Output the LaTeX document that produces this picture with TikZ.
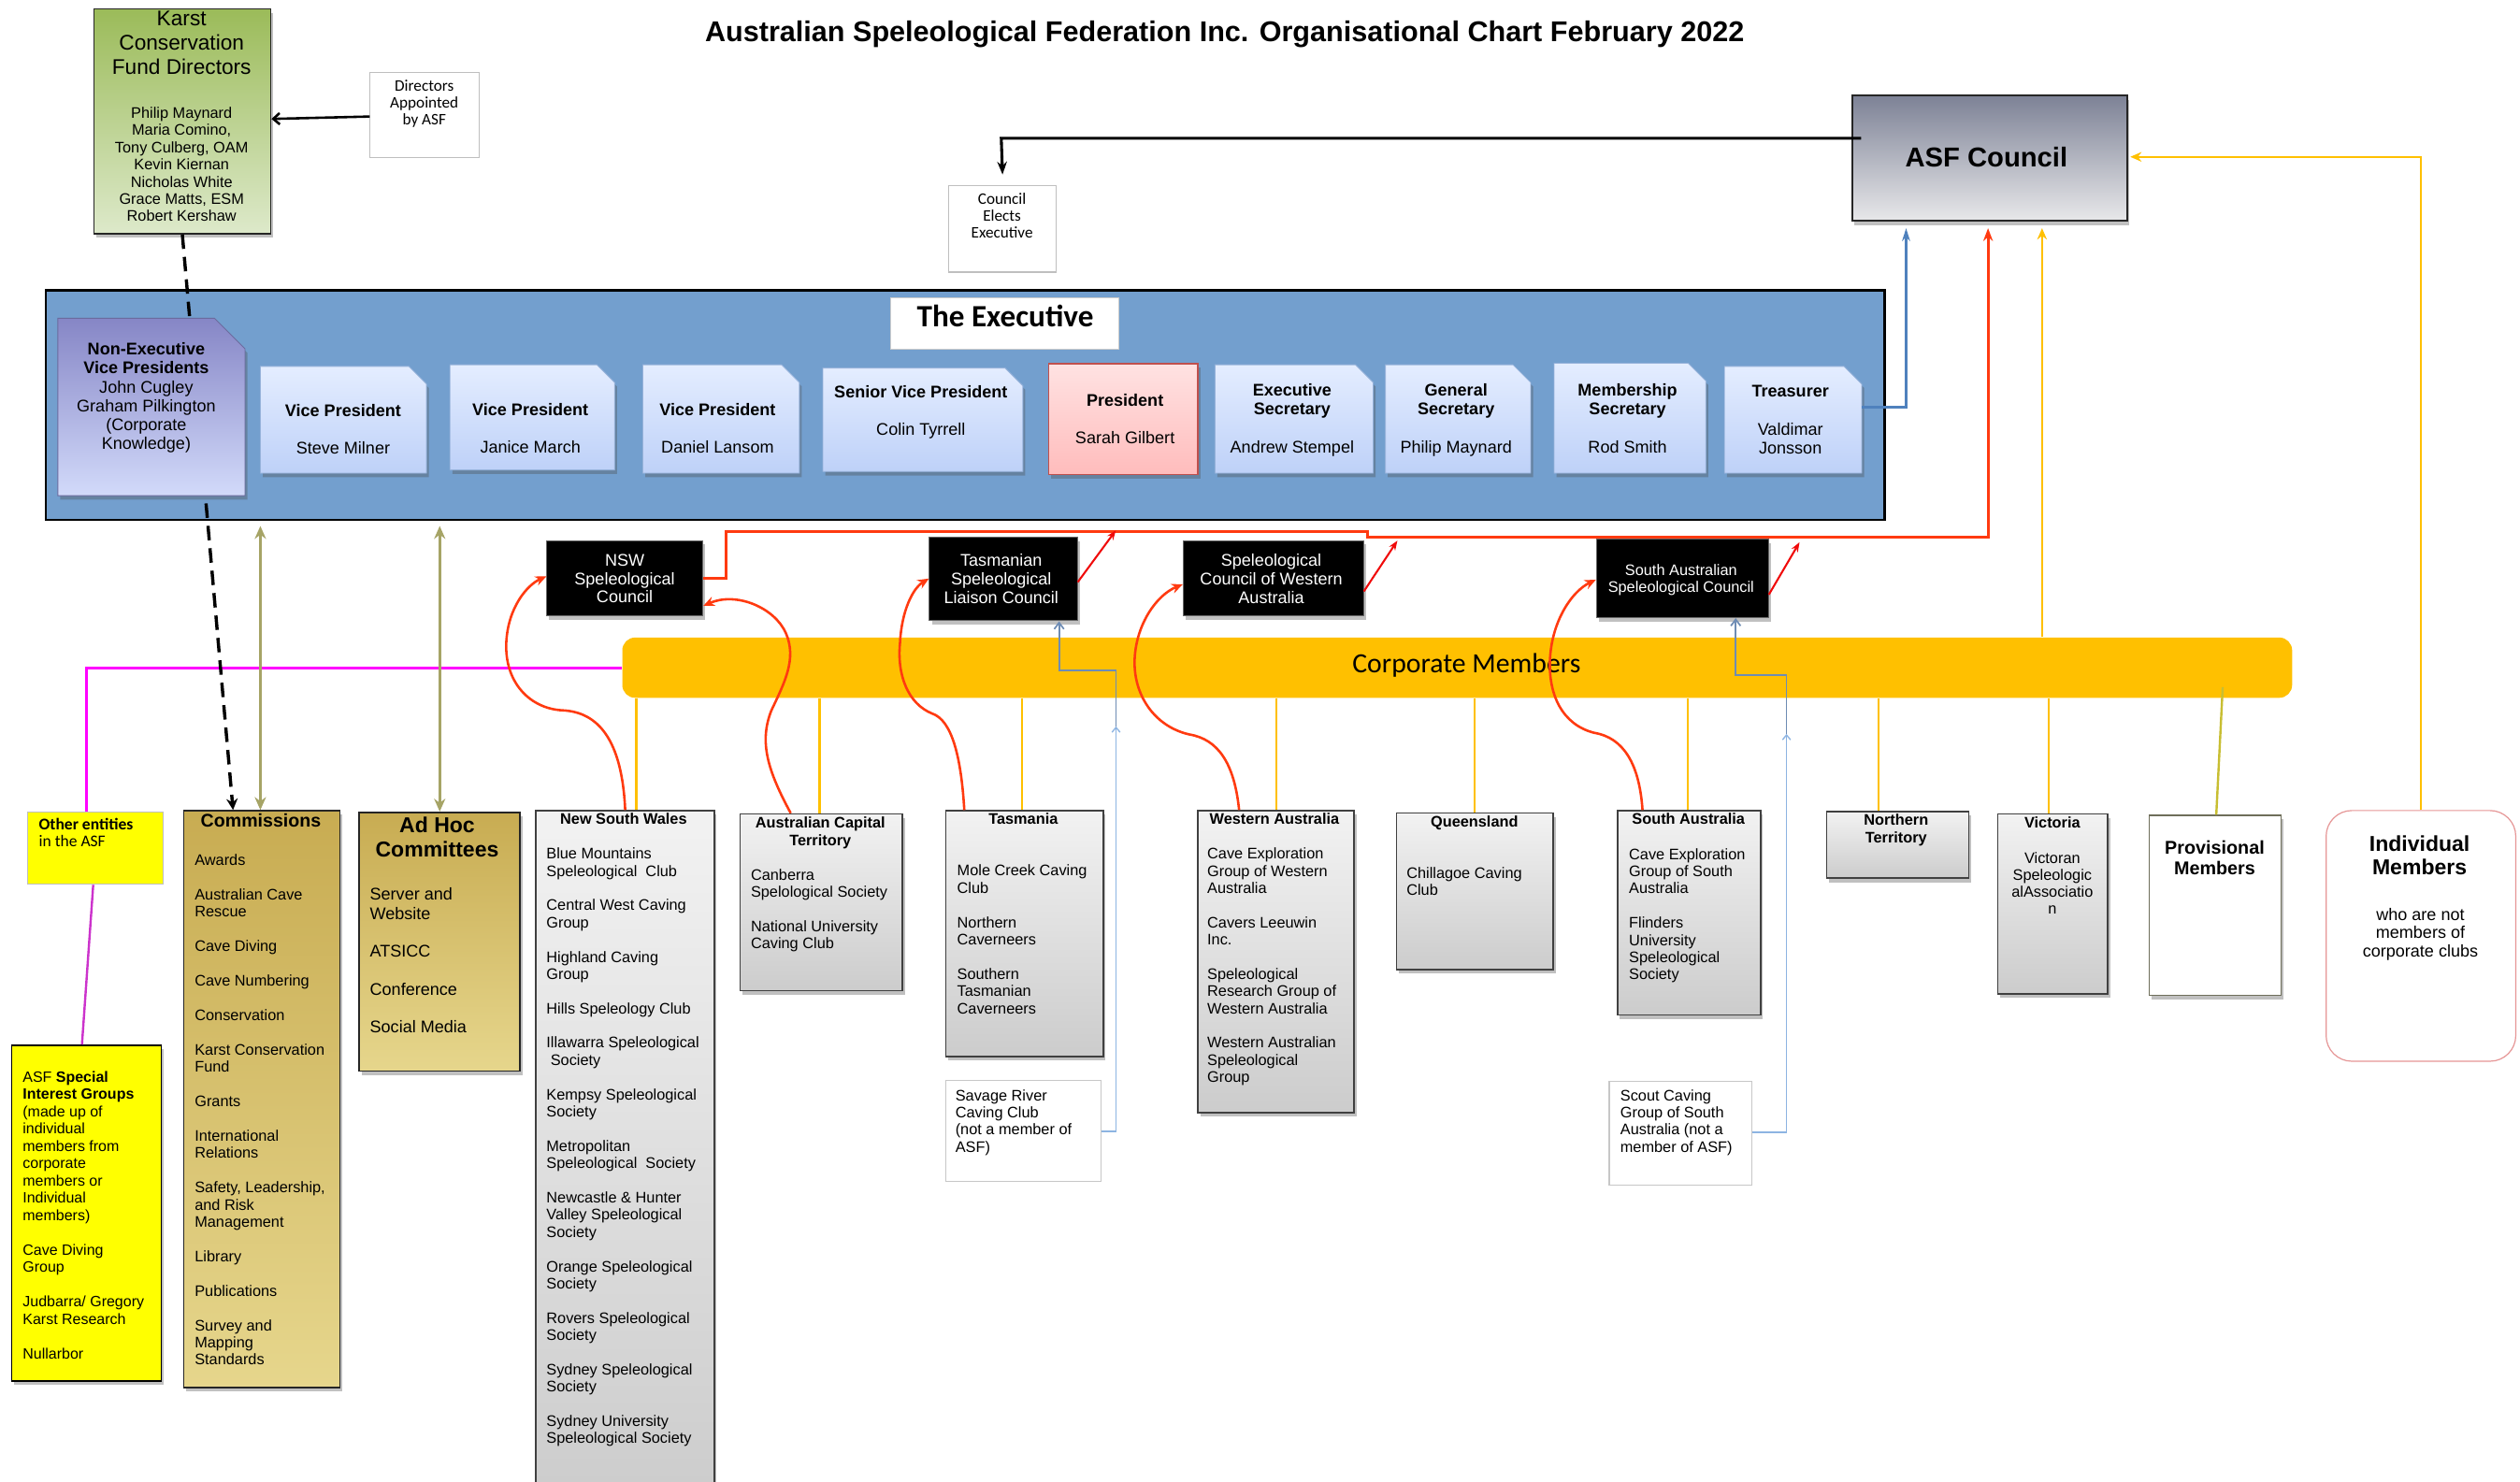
\documentclass[tikz,border=0pt]{standalone}
\usepackage{fontspec}
\setmainfont{Liberation Sans}
\newfontfamily\calfnt{Carlito}
\usetikzlibrary{arrows.meta,shadows,calc}
\newcommand\fsz[2]{\fontsize{#1}{#2}\selectfont}
\definecolor{execbg}{RGB}{115,159,206}
\definecolor{bluetop}{RGB}{228,237,255}
\definecolor{bluebot}{RGB}{190,209,248}
\definecolor{blueedge}{RGB}{150,178,218}
\definecolor{purtop}{RGB}{134,134,198}
\definecolor{purbot}{RGB}{210,218,250}
\definecolor{prestop}{RGB}{255,226,226}
\definecolor{presbot}{RGB}{255,188,188}
\definecolor{presedge}{RGB}{192,80,77}
\definecolor{kcftop}{RGB}{155,187,89}
\definecolor{kcfbot}{RGB}{221,233,202}
\definecolor{stop}{RGB}{242,242,242}
\definecolor{sbot}{RGB}{204,204,204}
\definecolor{goldtop}{RGB}{200,172,82}
\definecolor{goldbot}{RGB}{230,214,140}
\definecolor{counciltop}{RGB}{125,130,150}
\definecolor{councilbot}{RGB}{232,232,234}
\definecolor{corpc}{RGB}{255,192,0}
\definecolor{redA}{RGB}{255,58,16}
\definecolor{redB}{RGB}{240,10,10}
\definecolor{yelc}{RGB}{255,192,0}
\definecolor{olivec}{RGB}{166,164,102}
\definecolor{olivey}{RGB}{200,190,50}
\definecolor{magc}{RGB}{255,0,255}
\definecolor{magd}{RGB}{204,51,204}
\definecolor{blueC}{RGB}{79,129,189}
\definecolor{ltblue}{RGB}{141,180,226}
\definecolor{gblue}{RGB}{110,140,180}
\definecolor{indedge}{RGB}{230,150,150}
\definecolor{sigyel}{RGB}{255,255,0}
\definecolor{provedge}{RGB}{110,110,90}
\newcommand\bx[6]{\node[#1, inner sep=0pt, minimum width={#5-#3}, minimum height={#6-#4}, anchor=north west] (#2) at (#3,#4) {};}
\newcommand\snip[7]{\node[inner sep=0pt, minimum width={#5-#3}, minimum height={#6-#4}, anchor=north west] (#2) at (#3,#4) {};
 \path[#1] (#2.north west) -- ([xshift=-#7pt]#2.north east) -- ([yshift=-#7pt]#2.north east) -- (#2.south east) -- (#2.south west) -- cycle;}
\tikzset{
 sh/.style={drop shadow={shadow xshift=1.5pt,shadow yshift=-2.5pt,opacity=0.35,fill=black!70}},
 kcfst/.style={draw=black!85, line width=0.9pt, top color=kcftop, bottom color=kcfbot, sh},
 plainbox/.style={draw=black!25, line width=0.6pt, fill=white},
 councilst/.style={draw=black!85, line width=1pt, top color=counciltop, bottom color=councilbot, sh},
 execst/.style={draw=black, line width=1.3pt, fill=execbg},
 titlebox/.style={draw=black!20, line width=0.6pt, fill=white},
 bluest/.style={draw=blueedge, line width=0.5pt, top color=bluetop, bottom color=bluebot, sh},
 purst/.style={draw=purtop!80!black, line width=0.5pt, top color=purtop, bottom color=purbot, sh},
 presst/.style={draw=presedge, line width=0.8pt, top color=prestop, bottom color=presbot, sh},
 othst/.style={draw=black!25, line width=0.6pt, fill=sigyel},
 sigst/.style={draw=black, line width=0.8pt, fill=sigyel, sh},
 goldst/.style={draw=black!85, line width=0.9pt, top color=goldtop, bottom color=goldbot, sh},
 statest/.style={draw=black!75, line width=0.9pt, top color=stop, bottom color=sbot, sh},
 provst/.style={draw=provedge, line width=0.8pt, fill=white, sh},
 indst/.style={draw=indedge, line width=0.7pt, fill=white, rounded corners=16pt},
 notbox/.style={draw=black!22, line width=0.6pt, fill=white},
 councilblk/.style={draw=black!60, line width=0.6pt, fill=black, sh},
 corpst/.style={fill=corpc, rounded corners=8pt},
 txt/.style={inner sep=0pt, align=left, anchor=north west, font=\fsz{9.5}{10.7}},
 ctxt/.style={inner sep=0pt, align=center, anchor=north},
 stitle/.style={ctxt, font=\bfseries\fsz{9.5}{10.8}},
 wtxt/.style={ctxt, text=white, font=\fsz{10.5}{11.5}},
 redc/.style={draw=redA, line width=1.5pt, -{Stealth[length=7pt,width=6pt]}},
 redmain/.style={draw=redA, line width=1.8pt, -{Stealth[length=8pt,width=6pt]}},
 redshort/.style={draw=redB, line width=1.2pt, -{Stealth[length=6pt,width=4.5pt]}},
 yel/.style={draw=yelc, line width=1.4pt},
 yelarr/.style={draw=yelc, line width=1.4pt, -{Stealth[length=7pt,width=6pt]}},
 olv/.style={draw=olivec, line width=2pt, {Stealth[length=8pt,width=7pt]}-{Stealth[length=8pt,width=7pt]}},
 dashst/.style={draw=black, line width=2pt, dash pattern=on 9pt off 5pt, -{Stealth[length=7pt,width=7pt]}},
 blk/.style={draw=black, line width=1.5pt},
 bluec/.style={draw=blueC, line width=2pt, -{Stealth[length=8pt,width=5pt]}},
 ltb/.style={draw=ltblue, line width=0.8pt, -{Straight Barb[length=3pt,width=5pt]}},
 gbl/.style={draw=gblue, line width=1pt, -{Straight Barb[length=4pt,width=6pt]}},
 magst/.style={draw=magc, line width=1.8pt},
 magst2/.style={draw=magd, line width=1.4pt}
}
\begin{document}
\begin{tikzpicture}[x=1pt,y=-1pt]
\useasboundingbox (0,0) rectangle (1568,921.6);
\fill[white] (0,0) rectangle (1568,921.6);

% title
\node[ctxt, font=\bfseries\fsz{17.8}{20}] (title) at (762,13) {Australian Speleological Federation Inc. Organisational Chart February 2022};

% KCF
\bx{kcfst}{kcf}{58}{5}{168}{145}
\node[ctxt, font=\fsz{13.2}{15}] (kcft) at (113,7) {Karst\\Conservation\\Fund Directors};
\node[ctxt, font=\fsz{9.5}{10.7}] (kcfn) at (113,66.5) {Philip Maynard\\Maria Comino,\\Tony Culberg, OAM\\Kevin Kiernan\\Nicholas White\\Grace Matts, ESM\\Robert Kershaw};

% Directors appointed
\bx{plainbox}{dir}{230}{45}{298}{98}
\node[ctxt, font=\calfnt\fsz{10}{10.5}] (dirt) at (264,49.5) {Directors\\Appointed\\by ASF};

% ASF Council
\bx{councilst}{asf}{1152}{59}{1323}{137}
\node[ctxt, font=\bfseries\fsz{17}{20}] (asft) at (1236,91.5) {ASF Council};

% Council elects
\bx{plainbox}{elect}{590}{115}{657}{169}
\node[ctxt, font=\calfnt\fsz{10}{10.5}] (electt) at (623.5,120) {Council\\Elects\\Executive};

% Executive background
\bx{execst}{exec}{28}{180}{1172}{323}

% Other entities
\bx{othst}{oth}{17}{505}{101}{550}
\node[txt, font=\calfnt\fsz{10.2}{10.5}] (otht) at (24,509.2) {\textbf{Other entities}\\in the ASF};

% SIG
\bx{sigst}{sig}{7}{650}{100}{859}
\node[txt, font=\fsz{9.3}{10.75}] (sigt) at (14,666.5) {ASF \textbf{Special}\\\textbf{Interest Groups}\\(made up of\\individual\\members from\\corporate\\members or\\Individual\\members)\\[10.75pt]Cave Diving\\Group\\[10.75pt]Judbarra/ Gregory\\Karst Research\\[10.75pt]Nullarbor};

% Commissions
\bx{goldst}{comm}{114}{504}{211}{863}
\node[ctxt, font=\bfseries\fsz{11.4}{13}] (commh) at (162.3,506) {Commissions};
\node[txt, font=\fsz{9.5}{10.72}] (comml) at (121,531.4) {Awards\\[10.72pt]Australian Cave\\Rescue\\[10.72pt]Cave Diving\\[10.72pt]Cave Numbering\\[10.72pt]Conservation\\[10.72pt]Karst Conservation\\Fund\\[10.72pt]Grants\\[10.72pt]International\\Relations\\[10.72pt]Safety, Leadership,\\and Risk\\Management\\[10.72pt]Library\\[10.72pt]Publications\\[10.72pt]Survey and\\Mapping\\Standards};

% Ad hoc
\bx{goldst}{adhoc}{223}{505}{323}{666}
\node[ctxt, font=\bfseries\fsz{13.4}{15.4}] (adhoch) at (272,508) {Ad Hoc\\Committees};
\node[txt, font=\fsz{10.5}{11.8}] (adhocl) at (230,552.4) {Server and\\Website\\[11.8pt]ATSICC\\[11.8pt]Conference\\[11.8pt]Social Media};

% State boxes
\bx{statest}{nsw}{333}{504}{444}{935}
\node[stitle] (nswh) at (388,506) {New South Wales};
\node[txt] (nswl) at (339.8,527.4) {Blue Mountains\\Speleological\hspace*{2.6pt} Club\\[10.7pt]Central West Caving\\Group\\[10.7pt]Highland Caving\\Group\\[10.7pt]Hills Speleology Club\\[10.7pt]Illawarra Speleological\\\hspace*{2.6pt}Society\\[10.7pt]Kempsy Speleological\\Society\\[10.7pt]Metropolitan\\Speleological\hspace*{2.6pt} Society\\[10.7pt]Newcastle \& Hunter\\Valley Speleological\\Society\\[10.7pt]Orange Speleological\\Society\\[10.7pt]Rovers Speleological\\Society\\[10.7pt]Sydney Speleological\\Society\\[10.7pt]Sydney University\\Speleological Society};

\bx{statest}{act}{460}{506}{561}{616}
\node[stitle, font=\bfseries\fsz{9.5}{11}] (acth) at (510.4,508) {Australian Capital\\Territory};
\node[txt] (actl) at (467,540.4) {Canberra\\Spelological Society\\[10.7pt]National University\\Caving Club};

\bx{statest}{tas}{588}{504}{686}{657}
\node[stitle] (tash) at (636.7,506) {Tasmania};
\node[txt] (tasl) at (595.4,538) {Mole Creek Caving\\Club\\[10.7pt]Northern\\Caverneers\\[10.7pt]Southern\\Tasmanian\\Caverneers};

\bx{statest}{wa}{745}{504}{842}{692}
\node[stitle] (wah) at (793,506) {Western Australia};
\node[txt] (wal) at (751,527.4) {Cave Exploration\\Group of Western\\Australia\\[10.7pt]Cavers Leeuwin\\Inc.\\[10.7pt]Speleological\\Research Group of\\Western Australia\\[10.7pt]Western Australian\\Speleological\\Group};

\bx{statest}{qld}{868.6}{505.5}{966}{603}
\node[stitle] (qldh) at (917.4,507.3) {Queensland};
\node[txt] (qldl) at (875,539.3) {Chillagoe Caving\\Club};

\bx{statest}{sa}{1006}{504}{1095}{631}
\node[stitle] (sah) at (1050.6,506) {South Australia};
\node[txt] (sal) at (1013.4,527.7) {Cave Exploration\\Group of South\\Australia\\[10.7pt]Flinders\\University\\Speleological\\Society};

\bx{statest}{nt}{1136}{504.4}{1224.6}{546}
\node[stitle] (nth) at (1179.8,506.5) {Northern\\Territory};

\bx{statest}{vic}{1242.7}{506}{1311}{618}
\node[stitle] (vich) at (1277,508) {Victoria};
\node[ctxt, font=\fsz{9.5}{10.5}] (vicl) at (1277,530.4) {Victoran\\Speleologic\\alAssociatio\\n};

\bx{provst}{prov}{1337}{507}{1419}{619}
\node[ctxt, font=\bfseries\fsz{11.5}{13.3}] (provt) at (1378,522.7) {Provisional\\Members};

\bx{indst}{indiv}{1447}{504}{1565}{660}
\node[ctxt, font=\bfseries\fsz{13.4}{14.6}] (indivh) at (1505.5,520) {Individual\\Members};
\node[ctxt, font=\fsz{10.5}{11.6}] (indivl) at (1506,564.7) {who are not\\members of\\corporate clubs};

% not-member boxes
\bx{notbox}{sav}{588}{672}{685}{735}
\node[txt, font=\fsz{9.5}{10.6}] (savt) at (594.3,678) {Savage River\\Caving Club\\(not a member of\\ASF)};
\bx{notbox}{scout}{1001}{672.5}{1090}{737}
\node[txt, font=\fsz{9.5}{10.6}] (scoutt) at (1008,678) {Scout Caving\\Group of South\\Australia (not a\\member of ASF)};

% councils
\bx{councilblk}{nswc}{340}{336}{437}{383}
\node[wtxt] (nswct) at (388.7,344.6) {NSW\\Speleological\\Council};
\bx{councilblk}{tasc}{578}{334}{670}{386}
\node[wtxt] (tasct) at (623,344.6) {Tasmanian\\Speleological\\Liaison Council};
\bx{councilblk}{wac}{736}{336}{848}{383}
\node[wtxt] (wact) at (791,344.6) {Speleological\\Council of Western\\Australia};
\bx{councilblk}{sac}{993}{335}{1100}{384}
\node[wtxt, font=\fsz{9.5}{10.5}] (sact) at (1046,351) {South Australian\\Speleological Council};

% corporate members band
\bx{corpst}{corp}{387}{396.5}{1426}{434}
\node[font=\calfnt\fsz{17.3}{19}, inner sep=0pt] (corpt) at (912.5,414) {Corporate Members};

% magenta lines
\draw[magst] (corp.west |- 0,415.5) -- (54,415.5) -- (54,0 |- oth.north);
\draw[magst2] (oth.south -| 58,0) -- (51,0 |- sig.north);

% dashed line and olive arrows
\draw[dashst] (kcf.south) -- (comm.north -| 145,0);
\draw[olv] ($(exec.south -| 162,0)+(0,3)$) -- (comm.north -| 162,0);
\draw[olv] ($(exec.south -| 273.6,0)+(0,3)$) -- (adhoc.north -| 273.6,0);

% executive inner boxes
\bx{titlebox}{thex}{554}{185}{696}{217}
\node[ctxt, font=\calfnt\bfseries\fsz{19.3}{21}] (thext) at (625.5,189.5) {The Executive};

\snip{purst}{nev}{36}{198}{152}{308}{19}
\node[ctxt, font=\fsz{10.5}{11.8}] (nevt) at (91,213) {\textbf{Non-Executive}\\\textbf{Vice Presidents}\\John Cugley\\Graham Pilkington\\(Corporate\\Knowledge)};

\snip{bluest}{vp1}{162}{228}{265}{294}{11}
\node[ctxt, font=\fsz{10.5}{11.6}] (vp1t) at (213.5,251.5) {\textbf{Vice President}\\[11.6pt]Steve Milner};
\snip{bluest}{vp2}{280}{227}{382}{292}{11}
\node[ctxt, font=\fsz{10.5}{11.6}] (vp2t) at (330,251) {\textbf{Vice President}\\[11.6pt]Janice March};
\snip{bluest}{vp3}{400}{227}{497}{294}{11}
\node[ctxt, font=\fsz{10.5}{11.6}] (vp3t) at (446.5,251) {\textbf{Vice President}\\[11.6pt]Daniel Lansom};
\snip{bluest}{svp}{512}{229}{636}{293}{11}
\node[ctxt, font=\fsz{10.5}{11.6}] (svpt) at (573,239.7) {\textbf{Senior Vice President}\\[11.6pt]Colin Tyrrell};
\bx{presst}{pres}{652}{226}{745}{295}
\node[ctxt, font=\fsz{10.5}{11.6}] (prest) at (700,245) {\textbf{President}\\[11.6pt]Sarah Gilbert};
\snip{bluest}{esec}{756}{227}{854}{294}{11}
\node[ctxt, font=\fsz{10.5}{11.8}] (esect) at (804,238.4) {\textbf{Executive}\\\textbf{Secretary}\\[11.8pt]Andrew Stempel};
\snip{bluest}{gsec}{862}{227}{952}{294}{11}
\node[ctxt, font=\fsz{10.5}{11.8}] (gsect) at (906,238.4) {\textbf{General}\\\textbf{Secretary}\\[11.8pt]Philip Maynard};
\snip{bluest}{msec}{967}{226}{1061}{294}{11}
\node[ctxt, font=\fsz{10.5}{11.8}] (msect) at (1012.7,238.4) {\textbf{Membership}\\\textbf{Secretary}\\[11.8pt]Rod Smith};
\snip{bluest}{treas}{1073}{228}{1158}{294}{11}
\node[ctxt, font=\fsz{10.5}{11.8}] (treast) at (1114,239.7) {\textbf{Treasurer}\\[11.8pt]Valdimar\\Jonsson};

% connectors at top
\draw[blk, -{Straight Barb[length=4pt,width=7pt]}] (dir.west |- 0,72.5) -- (kcf.east |- 0,74);
\draw[blk, line width=1.8pt, -{Stealth[length=8pt,width=6pt]}] ([xshift=6pt]asf.west |- 0,86) -- (623,86) -- ([yshift=6.4pt]elect.north);
\draw[bluec] (treas.east |- 0,253.5) -- (1186,253.5) -- ($(asf.south -| 1186,0)+(0,4)$);
\draw[redmain] (nswc.east |- 0,360) -- (452,360) -- (452,331) -- (851,331) -- (851,334) -- (1237,334) -- ($(asf.south -| 1237,0)+(0,4)$);
\draw[yelarr] (1270.6,0 |- corp.north) -- ($(asf.south -| 1270.6,0)+(0,4)$);
\draw[yelarr] (indiv.north) -- (indiv.north |- 0,97.6) -- ([xshift=1.5pt]asf.east |- 0,97.6);

% red short arrows from councils
\draw[redshort] (tasc.east |- 0,362.2) -- (694.3,330);
\draw[redshort] (wac.east |- 0,368) -- (869.5,336.4);
\draw[redshort] (sac.east |- 0,370) -- (1119.7,337.4);

% yellow verticals
\draw[yel] (396,0 |- corp.south) -- (396,0 |- nsw.north);
\draw[yel] (510,0 |- corp.south) -- (510,0 |- act.north);
\draw[yel] (636,0 |- corp.south) -- (636,0 |- tas.north);
\draw[yel] (794,0 |- corp.south) -- (794,0 |- wa.north);
\draw[yel] (917.5,0 |- corp.south) -- (917.5,0 |- qld.north);
\draw[yel] (1050,0 |- corp.south) -- (1050,0 |- sa.north);
\draw[yel] (1169,0 |- corp.south) -- (1169,0 |- nt.north);
\draw[yel] (1274.6,0 |- corp.south) -- (1274.6,0 |- vic.north);
\draw[draw=olivey, line width=1.4pt] (1383,427.6) -- (1379,0 |- prov.north);

% red curved arrows to councils
\draw[redc] (nsw.north -| 389,0) .. controls (387,460) and (372,443) .. (350,442) .. controls (330,441) and (314,425) .. (315,400) .. controls (316,378) and (328,364) .. (nswc.west |- 0,358.6);
\draw[redc] (act.north -| 492,0) .. controls (478,480) and (472,462) .. (480,442) .. controls (488,425) and (496,410) .. (489,394) .. controls (482,378) and (458,368) .. (nswc.east |- 0,377);
\draw[redc] (tas.north -| 600,0) .. controls (598,470) and (592,448) .. (580,444) .. controls (565,438) and (558,420) .. (560,400) .. controls (561,380) and (568,366) .. (tasc.west |- 0,360);
\draw[redc] (wa.north -| 771,0) .. controls (768,475) and (758,460) .. (740,457) .. controls (718,452) and (705,432) .. (706,410) .. controls (707,388) and (720,370) .. (wac.west |- 0,363.6);
\draw[redc] (sa.north -| 1022,0) .. controls (1020,475) and (1010,459) .. (992,456) .. controls (972,451) and (963,432) .. (964.5,409) .. controls (966,386) and (978,368) .. (sac.west |- 0,360.7);

% non-member links
\draw[ltb] (sav.east |- 0,704) -- (694.4,704) -- (694.4,452);
\draw[gbl] (694.4,452) -- (694.4,417) -- (659,417) -- (659,0 |- tasc.south);
\draw[ltb] (scout.east |- 0,704.6) -- (1111.6,704.6) -- (1111.6,456.7);
\draw[gbl] (1111.6,456.7) -- (1111.6,420) -- (1080,420) -- (1080,0 |- sac.south);
\end{tikzpicture}
\end{document}
